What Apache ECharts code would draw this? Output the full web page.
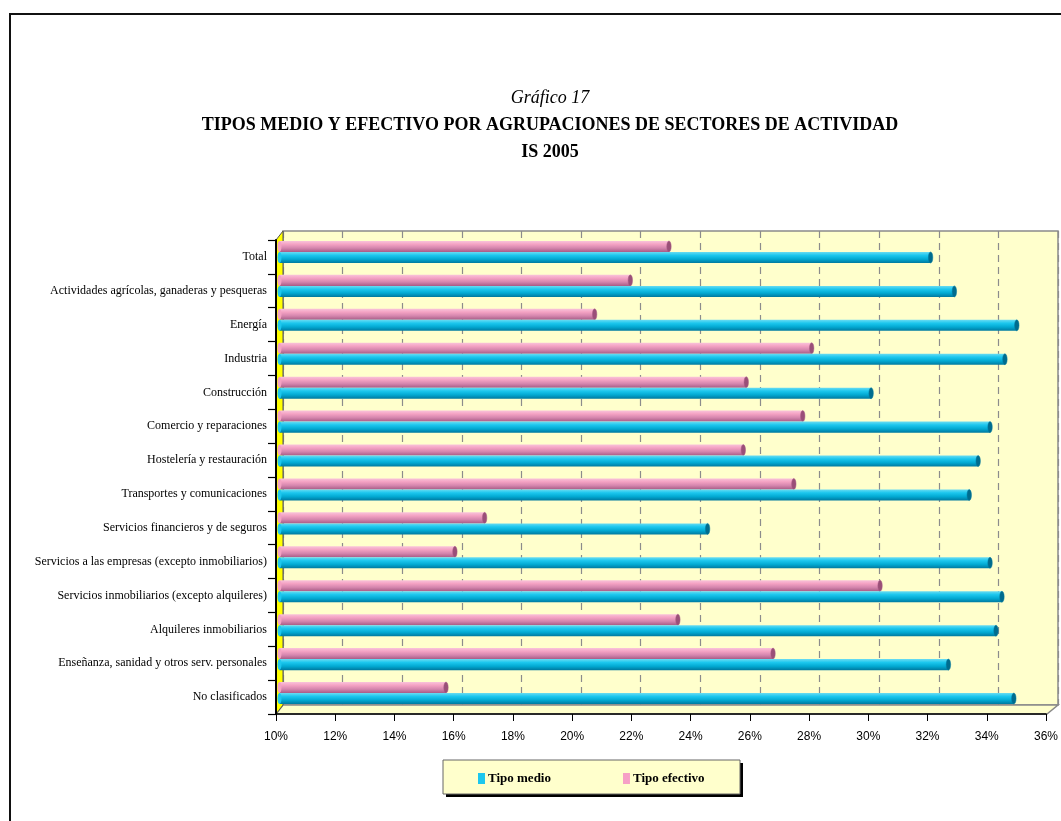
<!DOCTYPE html>
<html>
<head>
<meta charset="utf-8">
<title>Tipos medio y efectivo por agrupaciones de sectores de actividad - IS 2005</title>
<script src="https://cdn.jsdelivr.net/npm/echarts@6/dist/echarts.min.js"></script>
<style>
  html, body { margin: 0; padding: 0; background: #ffffff; }
  #chart { width: 1061px; height: 821px; }
</style>
</head>
<body>
<div id="chart"></div>
<script>
// Sector groups, top to bottom
const categories = [
  'Total',
  'Actividades agrícolas, ganaderas y pesqueras',
  'Energía',
  'Industria',
  'Construcción',
  'Comercio y reparaciones',
  'Hostelería y restauración',
  'Transportes y comunicaciones',
  'Servicios financieros y de seguros',
  'Servicios a las empresas (excepto inmobiliarios)',
  'Servicios inmobiliarios (excepto alquileres)',
  'Alquileres inmobiliarios',
  'Enseñanza, sanidad y otros serv. personales',
  'No clasificados'
];

// Average rate (%)
const tipoMedio = [31.9, 32.7, 34.8, 34.4, 29.9, 33.9, 33.5, 33.2, 24.4, 33.9, 34.3, 34.1, 32.5, 34.7];
// Effective rate (%)
const tipoEfectivo = [23.1, 21.8, 20.6, 27.9, 25.7, 27.6, 25.6, 27.3, 16.9, 15.9, 30.2, 23.4, 26.6, 15.6];

// Value axis
const axisMin = 10;
const axisMax = 36;
const axisStep = 2;

const serif = '"Liberation Serif", "DejaVu Serif", serif';
const sans = '"Liberation Sans", Arial, sans-serif';

const chart = echarts.init(document.getElementById('chart'));

// Cylinder-like bar: gradient body plus a darker elliptic end cap
function cylinder(colors, capColor, shift) {
  return function (params, api) {
    const v = api.value(0);
    const cat = api.value(1);
    const start = api.coord([axisMin, cat]);
    const end = api.coord([v, cat]);
    const band = api.size([0, 1])[1];
    const h = band * 0.325;
    const cy = start[1] + shift * h;
    const y0 = cy - h / 2;
    return {
      type: 'group',
      children: [
        {
          type: 'rect',
          shape: { x: start[0], y: y0, width: end[0] - start[0], height: h },
          style: {
            fill: new echarts.graphic.LinearGradient(0, 0, 0, 1, [
              { offset: 0, color: colors[0] },
              { offset: 0.3, color: colors[1] },
              { offset: 0.65, color: colors[2] },
              { offset: 1, color: colors[3] }
            ])
          }
        },
        {
          type: 'ellipse',
          shape: { cx: start[0], cy: cy, rx: 2, ry: h / 2 },
          style: { fill: colors[1] }
        },
        {
          type: 'ellipse',
          shape: { cx: end[0], cy: cy, rx: 2.2, ry: h / 2 },
          style: { fill: capColor, stroke: colors[3], lineWidth: 0.5 }
        }
      ]
    };
  };
}

const pinkStops = ['#F9C3DA', '#F4A2C3', '#D485AD', '#A85C86'];
const blueStops = ['#6ADCF2', '#1CC7EE', '#02A9D2', '#00799F'];

const option = {
  animation: false,
  backgroundColor: '#ffffff',
  title: [
    {
      text: 'Gráfico 17',
      left: 545, top: 84, textAlign: 'center',
      textStyle: { fontFamily: serif, fontStyle: 'italic', fontWeight: 'normal', fontSize: 18, color: '#000' }
    },
    {
      text: 'TIPOS MEDIO Y EFECTIVO POR AGRUPACIONES DE SECTORES DE ACTIVIDAD',
      left: 545, top: 111, textAlign: 'center',
      textStyle: { fontFamily: serif, fontWeight: 'bold', fontSize: 18, color: '#000' }
    },
    {
      text: 'IS 2005',
      left: 545, top: 138, textAlign: 'center',
      textStyle: { fontFamily: serif, fontWeight: 'bold', fontSize: 18, color: '#000' }
    }
  ],
  legend: {
    data: [
      { name: 'Tipo medio', itemStyle: { color: '#1CC7EE' } },
      { name: 'Tipo efectivo', itemStyle: { color: '#F6A0C6' } }
    ],
    left: 443, top: 760,
    orient: 'horizontal',
    icon: 'rect',
    itemWidth: 7, itemHeight: 11,
    itemGap: 72,
    padding: [12, 34, 11, 35],
    textStyle: { fontFamily: serif, fontWeight: 'bold', fontSize: 13, color: '#000', padding: [0, 0, 0, -2] }
  },
  graphic: [
    // outer frame
    {
      type: 'rect', z: 0, silent: true,
      shape: { x: 10, y: 14, width: 1100, height: 900 },
      style: { fill: 'none', stroke: '#111', lineWidth: 2 }
    },
    // legend box shadow
    {
      type: 'rect', z: 0, silent: true,
      shape: { x: 446, y: 763, width: 297, height: 34 },
      style: { fill: '#000' }
    },
    // legend box
    {
      type: 'rect', z: 0, silent: true,
      shape: { x: 443, y: 760, width: 297, height: 34 },
      style: { fill: '#FFFFCC', stroke: '#666', lineWidth: 1 }
    },
    // floor
    {
      type: 'polygon', z: 1, silent: true,
      shape: { points: [[276, 714], [283, 705], [1058, 705], [1047, 714]] },
      style: { fill: '#FFFFCC', stroke: '#8a8a8a', lineWidth: 1.5 }
    },
    // left wall
    {
      type: 'polygon', z: 1, silent: true,
      shape: { points: [[276, 240], [283, 231], [283, 705], [276, 714]] },
      style: { fill: '#FFFF00', stroke: '#555', lineWidth: 1 }
    }
  ],
  grid: [
    // front axes
    { left: 276, top: 240, width: 771, height: 474, containLabel: false },
    // back wall
    {
      left: 283, top: 231, width: 775, height: 474, show: true,
      backgroundColor: '#FFFFCC', borderColor: '#8a8a8a', borderWidth: 1.5, z: -1
    },
    // bars (mid depth)
    { left: 279.5, top: 235, width: 773, height: 475 }
  ],
  xAxis: [
    {
      gridIndex: 0, type: 'value', min: axisMin, max: axisMax, interval: axisStep, z: 5,
      axisLine: { show: true, lineStyle: { color: '#000', width: 1.5 } },
      axisTick: { show: true, length: 7, lineStyle: { color: '#000' } },
      axisLabel: {
        margin: 17, fontFamily: sans, fontSize: 12, color: '#000',
        formatter: '{value}%'
      },
      splitLine: { show: false }
    },
    {
      gridIndex: 1, type: 'value', min: axisMin, max: axisMax, interval: axisStep,
      axisLine: { show: false }, axisTick: { show: false }, axisLabel: { show: false },
      splitLine: { show: true, lineStyle: { color: '#8c8c8c', type: [7, 5], width: 1.2 } }
    },
    {
      gridIndex: 2, type: 'value', min: axisMin, max: axisMax, interval: axisStep, show: false,
      splitLine: { show: false }
    }
  ],
  yAxis: [
    {
      gridIndex: 0, type: 'category', data: categories, inverse: true, z: 5,
      axisLine: { show: true, lineStyle: { color: '#000', width: 2 } },
      axisTick: { show: true, length: 8, lineStyle: { color: '#000', width: 1.2 } },
      axisLabel: { margin: 9, fontFamily: serif, fontSize: 12, color: '#000' },
      splitLine: { show: false }
    },
    {
      gridIndex: 1, type: 'category', data: categories, inverse: true, show: false
    },
    {
      gridIndex: 2, type: 'category', data: categories, inverse: true, show: false
    }
  ],
  series: [
    {
      name: 'Tipo efectivo',
      type: 'custom',
      xAxisIndex: 2, yAxisIndex: 2, z: 3,
      itemStyle: { color: '#F6A0C6' },
      encode: { x: 0, y: 1 },
      renderItem: cylinder(pinkStops, '#9A4F78', -0.5),
      data: tipoEfectivo.map((v, i) => [v, i])
    },
    {
      name: 'Tipo medio',
      type: 'custom',
      xAxisIndex: 2, yAxisIndex: 2, z: 3,
      itemStyle: { color: '#1CC7EE' },
      encode: { x: 0, y: 1 },
      renderItem: cylinder(blueStops, '#006C8E', 0.5),
      data: tipoMedio.map((v, i) => [v, i])
    }
  ]
};

chart.setOption(option);
</script>
</body>
</html>
